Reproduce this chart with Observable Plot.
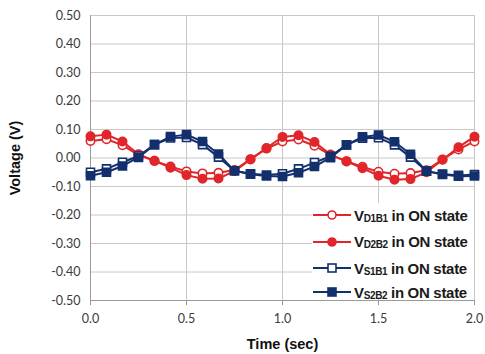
<!DOCTYPE html>
<html>
<head>
<meta charset="utf-8">
<script src="https://cdn.jsdelivr.net/npm/d3@7"></script>
<script src="https://cdn.jsdelivr.net/npm/@observablehq/plot@0.6"></script>
<style>
  html, body { margin: 0; padding: 0; background: #fff; }
  #wrap { position: relative; width: 485px; height: 354px; }
  #wrap svg.plot { position: absolute; left: 0; top: 0; }
  [aria-label="y-axis label"] text, [aria-label="x-axis label"] text,
  [aria-label="y-axis label"], [aria-label="x-axis label"] {
    font-family: "Liberation Sans", Arial, sans-serif; font-weight: bold; font-size: 14.5px; fill: #111;
  }
  #legend { position: absolute; left: 312px; top: 203px; width: 162px; height: 96px; background: #fff; }
  .row { position: absolute; left: 0; height: 20px; display: flex; align-items: center; }
  .row svg { flex: none; }
  .lbl { font-family: "Liberation Sans", Arial, sans-serif; font-weight: bold; font-size: 15px; color: #1a1a1a; margin-left: 2px; white-space: nowrap; letter-spacing: -0.3px; }
  .lbl sub { font-size: 10px; vertical-align: -1px; letter-spacing: -0.4px; }
</style>
</head>
<body>
<div id="wrap"></div>
<script>
// ---- data ----
const times = d3.range(25).map(i => i / 12);
const seriesNames = ["VD1B1", "VD2B2", "VS1B1", "VS2B2"];
const subs = ["D1B1", "D2B2", "S1B1", "S2B2"];
const VD1B1 = [0.060, 0.066, 0.045, 0.010, -0.010, -0.030, -0.047, -0.054, -0.052, -0.042, -0.004, 0.033,
               0.058, 0.065, 0.043, 0.010, -0.011, -0.031, -0.048, -0.055, -0.053, -0.043, -0.005, 0.030, 0.058];
const VD2B2 = [0.076, 0.082, 0.058, 0.013, -0.010, -0.034, -0.060, -0.073, -0.072, -0.046, -0.005, 0.035,
               0.074, 0.080, 0.056, 0.012, -0.012, -0.036, -0.062, -0.076, -0.074, -0.050, -0.006, 0.038, 0.075];
const VS1B1 = [-0.050, -0.038, -0.015, 0.007, 0.047, 0.070, 0.072, 0.047, 0.003, -0.045, -0.055, -0.060,
               -0.055, -0.038, -0.016, 0.006, 0.046, 0.069, 0.071, 0.046, 0.003, -0.046, -0.056, -0.061, -0.058];
const VS2B2 = [-0.062, -0.050, -0.028, 0.002, 0.047, 0.075, 0.082, 0.058, 0.014, -0.045, -0.057, -0.063,
               -0.065, -0.052, -0.030, 0.001, 0.046, 0.074, 0.081, 0.057, 0.013, -0.046, -0.058, -0.064, -0.063];
const yTicks = [-0.5, -0.4, -0.3, -0.2, -0.1, 0, 0.1, 0.2, 0.3, 0.4, 0.5];
const xTicks = [0, 0.5, 1.0, 1.5, 2.0];

const RED = "#e0262b", BLUE = "#13306d";
const styles = [
  {name: "VD1B1", values: VD1B1, color: RED, symbol: "circle", filled: false},
  {name: "VD2B2", values: VD2B2, color: RED, symbol: "circle", filled: true},
  {name: "VS1B1", values: VS1B1, color: BLUE, symbol: "square", filled: false},
  {name: "VS2B2", values: VS2B2, color: BLUE, symbol: "square", filled: true}
];

const marks = [
  Plot.gridY(yTicks, {stroke: "#c8c8c8", strokeOpacity: 1, strokeWidth: 1}),
  Plot.gridX(xTicks.slice(1), {stroke: "#c8c8c8", strokeOpacity: 1, strokeWidth: 1}),
  Plot.ruleX([0], {stroke: "#9a9a9a"}),
  Plot.ruleY([-0.5], {stroke: "#9a9a9a"}),
  Plot.axisY(yTicks, {tickSize: 0, tickPadding: 10, tickFormat: d => d.toFixed(2).replace("−", "-"),
    fontSize: 12.5, label: "Voltage (V)", labelAnchor: "center", labelOffset: 81, labelArrow: "none"}),
  Plot.axisX(xTicks, {tickSize: 5, tickPadding: 9, stroke: "#9a9a9a", tickFormat: d => d.toFixed(1),
    fontSize: 12.5, label: "Time (sec)", labelAnchor: "center", labelOffset: 48, labelArrow: "none"})
];
for (const s of styles) {
  const data = times.map((t, i) => ({t, v: s.values[i]}));
  marks.push(Plot.line(data, {x: "t", y: "v", stroke: s.color, strokeWidth: 2}));
  marks.push(Plot.dot(data, {x: "t", y: "v", symbol: s.symbol, r: s.symbol === "square" ? 4.5 : 4.2,
    stroke: s.color, strokeWidth: 1.6, fill: s.filled ? s.color : "#fff"}));
}

const chart = Plot.plot({
  width: 485, height: 354,
  marginLeft: 90, marginRight: 11, marginTop: 15, marginBottom: 54,
  x: {domain: [0, 2]},
  y: {domain: [-0.5, 0.5]},
  style: {fontFamily: "Lato, 'Open Sans', sans-serif", fontSize: "12.5px", color: "#3a3a3a", background: "#fff"},
  marks
});
chart.classList.add("plot");
const wrap = document.getElementById("wrap");
wrap.appendChild(chart);

// ---- legend (inside plot, bottom right) ----
const legend = document.createElement("div");
legend.id = "legend";
const rowTops = [2, 28.5, 55, 79];
styles.forEach((s, i) => {
  const row = document.createElement("div");
  row.className = "row";
  row.style.top = rowTops[i] + "px";
  const ns = "http://www.w3.org/2000/svg";
  const sv = document.createElementNS(ns, "svg");
  sv.setAttribute("width", 40); sv.setAttribute("height", 20);
  const ln = document.createElementNS(ns, "line");
  ln.setAttribute("x1", 1); ln.setAttribute("x2", 39); ln.setAttribute("y1", 10); ln.setAttribute("y2", 10);
  ln.setAttribute("stroke", s.color); ln.setAttribute("stroke-width", 2);
  sv.appendChild(ln);
  let mk;
  if (s.symbol === "circle") {
    mk = document.createElementNS(ns, "circle");
    mk.setAttribute("cx", 20); mk.setAttribute("cy", 10); mk.setAttribute("r", 4);
  } else {
    mk = document.createElementNS(ns, "rect");
    mk.setAttribute("x", 16); mk.setAttribute("y", 6); mk.setAttribute("width", 8); mk.setAttribute("height", 8);
  }
  mk.setAttribute("stroke", s.color); mk.setAttribute("stroke-width", 1.6);
  mk.setAttribute("fill", s.filled ? s.color : "#fff");
  sv.appendChild(mk);
  row.appendChild(sv);
  const lbl = document.createElement("span");
  lbl.className = "lbl";
  lbl.innerHTML = "V<sub>" + subs[i] + "</sub> in ON state";
  row.appendChild(lbl);
  legend.appendChild(row);
});
wrap.appendChild(legend);
</script>
</body>
</html>
